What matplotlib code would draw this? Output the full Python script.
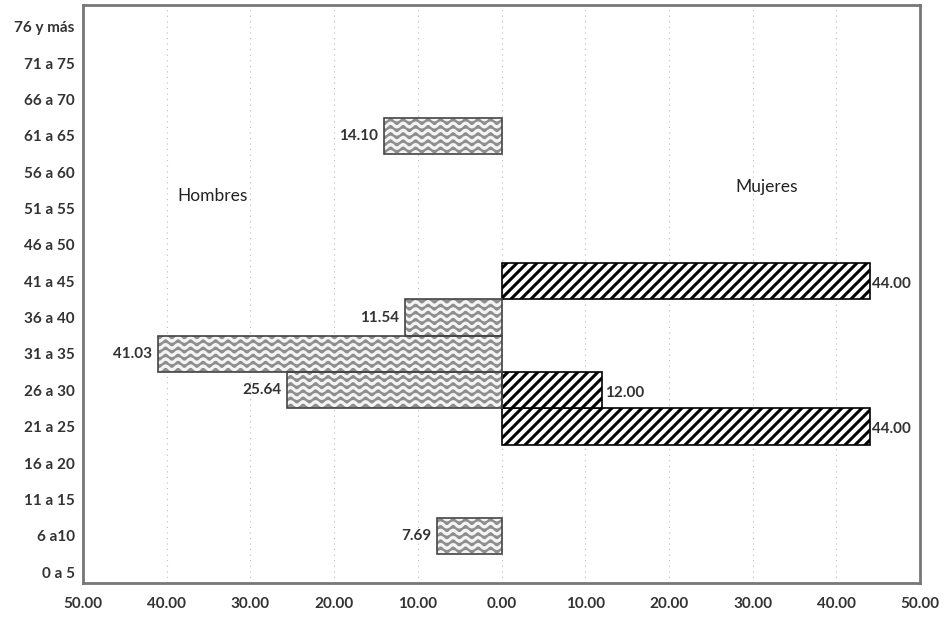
import numpy as np
import matplotlib
matplotlib.use("Agg")
import matplotlib.pyplot as plt
import matplotlib.hatch as mhatch
from matplotlib.path import Path

# ---------------- data ----------------
categories = ["0 a 5", "6 a10", "11 a 15", "16 a 20", "21 a 25", "26 a 30",
              "31 a 35", "36 a 40", "41 a 45", "46 a 50", "51 a 55", "56 a 60",
              "61 a 65", "66 a 70", "71 a 75", "76 y más"]
hombres = [0, 7.69, 0, 0, 0, 25.64, 41.03, 11.54, 0, 0, 0, 0, 14.10, 0, 0, 0]
mujeres = [0, 0, 0, 0, 44.00, 12.00, 0, 0, 44.00, 0, 0, 0, 0, 0, 0, 0]
xticks = [-50, -40, -30, -20, -10, 0, 10, 20, 30, 40, 50]


# ---------------- custom hatches ----------------
class WaveHatch(mhatch.HatchPatternBase):
    """wavy horizontal lines, triggered by '|'"""
    def __init__(self, hatch, density):
        self.rows = 14 if hatch.count('|') else 0
        self.periods = 8
        self.pts = self.periods * 8 + 1
        self.num_vertices = self.rows * self.pts

    def set_vertices_and_codes(self, vertices, codes):
        x = np.linspace(0, 1, self.pts)
        amp = 0.02
        for i in range(self.rows):
            y0 = (i + 0.5) / self.rows
            sl = slice(i * self.pts, (i + 1) * self.pts)
            vertices[sl, 0] = x
            vertices[sl, 1] = y0 + amp * np.sin(2 * np.pi * self.periods * x)
            codes[sl] = Path.LINETO
            codes[i * self.pts] = Path.MOVETO


class DiagHatch(mhatch.HatchPatternBase):
    """diagonal lines with custom spacing, triggered by '-'"""
    def __init__(self, hatch, density):
        self.k = 10 if hatch.count('-') else 0
        self.num_vertices = (2 * self.k + 1) * 2 if self.k else 0

    def set_vertices_and_codes(self, vertices, codes):
        cs = np.linspace(-1, 1, 2 * self.k + 1)
        vertices[0::2, 0] = cs
        vertices[0::2, 1] = 0.0
        vertices[1::2, 0] = cs + 1.0
        vertices[1::2, 1] = 1.0
        codes[0::2] = Path.MOVETO
        codes[1::2] = Path.LINETO


mhatch._hatch_types = [WaveHatch if t is mhatch.VerticalHatch else
                       DiagHatch if t is mhatch.HorizontalHatch else t
                       for t in mhatch._hatch_types]

plt.rcParams['font.family'] = ['Lato', 'DejaVu Sans']
plt.rcParams['hatch.linewidth'] = 2.2

fig = plt.figure(figsize=(9.48, 6.25), dpi=100)
ax = fig.add_axes([0.0876, 0.0672, 0.883, 0.925])

y = np.arange(len(categories))
h = np.array(hombres)
m = np.array(mujeres)
hm = h > 0
mm = m > 0

# men bars (wavy gray)
ax.barh(y[hm], -h[hm], height=1.0, color='#8e8e8e', edgecolor='#f4f4f4',
        hatch='|', linewidth=0, zorder=3)
ax.barh(y[hm], -h[hm], height=1.0, fill=False, edgecolor='#444444',
        linewidth=1.2, zorder=4)
# women bars (black diagonal)
ax.barh(y[mm], m[mm], height=1.0, color='white', edgecolor='black',
        hatch='-', linewidth=1.2, zorder=3)

for yi, v in zip(y[hm], h[hm]):
    ax.text(-v - 0.7, yi, f"{v:.2f}", ha='right', va='center',
            fontsize=11, fontweight='bold', color='#333333', zorder=5)
for yi, v in zip(y[mm], m[mm]):
    ax.text(v + 0.3, yi - 0.07, f"{v:.2f}", ha='left', va='center',
            fontsize=11, fontweight='bold', color='#333333', zorder=5)

ax.text(-34.5, 10.35, "Hombres", ha='center', va='center', fontsize=12.5,
        color='#222222')
ax.text(31.7, 10.6, "Mujeres", ha='center', va='center', fontsize=12.5,
        color='#222222')

ax.set_xlim(-50, 50)
ax.set_ylim(-0.3, 15.6)
ax.set_xticks(xticks)
ax.set_xticklabels([f"{abs(t):.2f}" for t in xticks])
ax.set_yticks(y)
ax.set_yticklabels(categories)
ax.tick_params(axis='both', length=0, labelsize=11, labelcolor='#333333')
ax.tick_params(axis='x', pad=10)
ax.tick_params(axis='y', pad=6)
for lab in ax.get_xticklabels() + ax.get_yticklabels():
    lab.set_fontweight('bold')

ax.grid(axis='x', linestyle=(0, (1, 4)), color='#bbbbbb', linewidth=0.8,
        zorder=0)
for s in ax.spines.values():
    s.set_color('#777777')
    s.set_linewidth(2)

fig.savefig("out.png", dpi=100, facecolor='white')
